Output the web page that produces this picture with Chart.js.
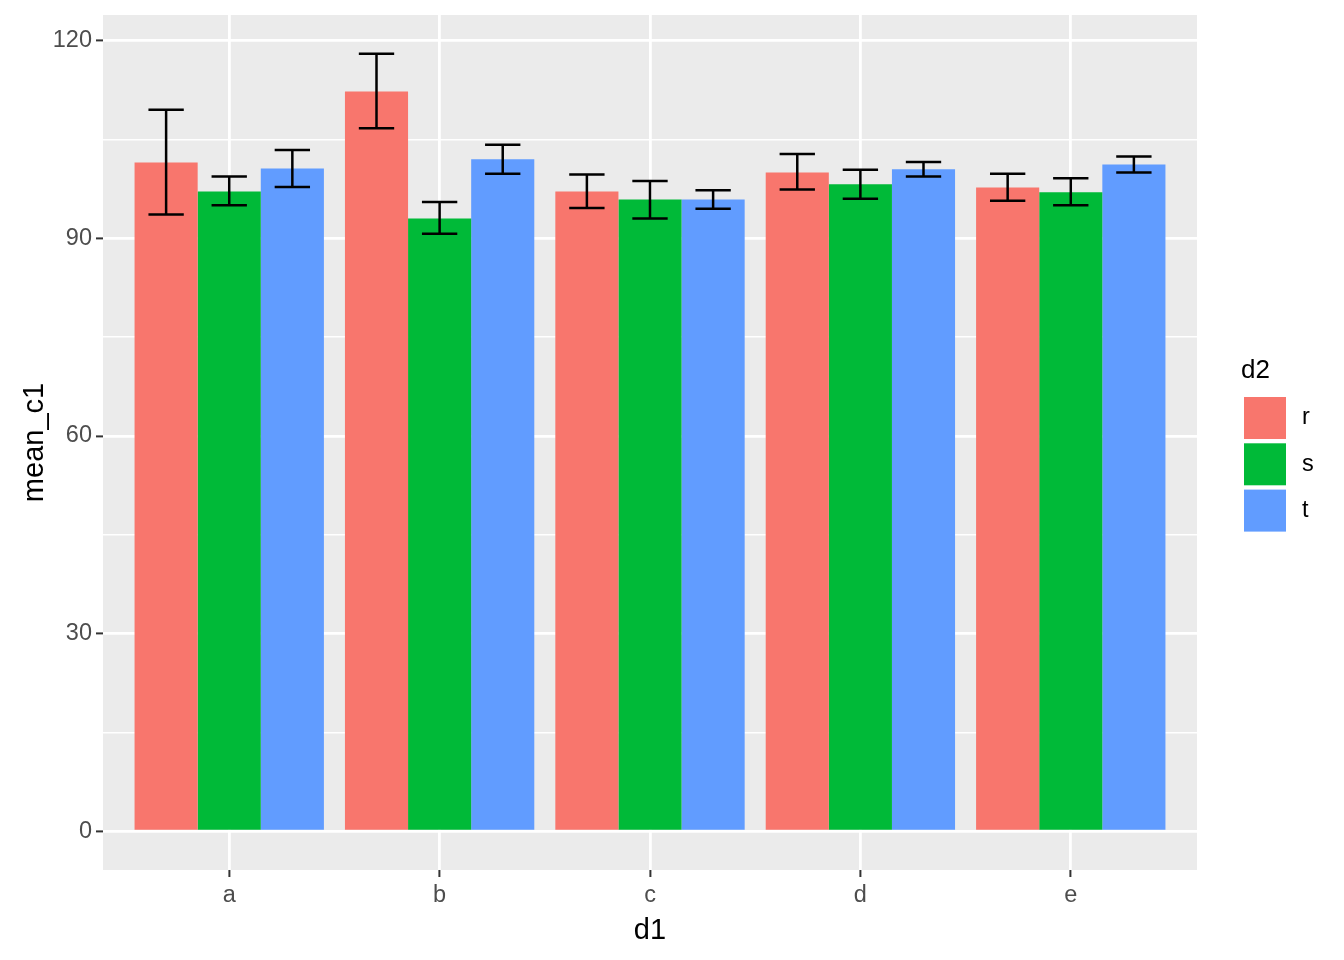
<!DOCTYPE html>
<html>
<head>
<meta charset="utf-8">
<script src="https://cdn.jsdelivr.net/npm/chart.js@4.4.1/dist/chart.umd.min.js"></script>
<style>
  html, body { margin: 0; padding: 0; background: #ffffff; }
  #wrap { width: 1344px; height: 960px; }
</style>
</head>
<body>
<div id="wrap"><canvas id="c" width="1344" height="960"></canvas></div>
<script>
const categories = ['a', 'b', 'c', 'd', 'e'];
const seriesNames = ['r', 's', 't'];
const seriesColors = ['#F8766D', '#00BA38', '#619CFF'];

const meanR = [101.5, 112.3, 97.1, 100.0, 97.7];
const meanS = [97.1, 93.0, 95.9, 98.2, 97.0];
const meanT = [100.6, 102.0, 95.9, 100.5, 101.2];

const lowR = [93.6, 106.7, 94.6, 97.4, 95.7];
const highR = [109.5, 118.0, 99.7, 102.8, 99.8];
const lowS = [95.0, 90.7, 93.0, 96.0, 95.0];
const highS = [99.4, 95.5, 98.7, 100.4, 99.1];
const lowT = [97.8, 99.8, 94.5, 99.4, 100.0];
const highT = [103.4, 104.2, 97.3, 101.6, 102.4];

const yTickLabels = ['0', '30', '60', '90', '120'];

const means = [meanR, meanS, meanT];
const lows = [lowR, lowS, lowT];
const highs = [highR, highS, highT];

const FONT = '"Liberation Sans", Arial, Helvetica, sans-serif';

const datasets = seriesNames.map((name, i) => ({
  label: name,
  data: means[i].map((v, j) => ({ x: j + 1, y: v })),
  backgroundColor: seriesColors[i],
  borderWidth: 0,
  categoryPercentage: 0.9,
  barPercentage: 1.0,
  errLow: lows[i],
  errHigh: highs[i]
}));

const panelBg = {
  id: 'panelBg',
  beforeDraw(chart) {
    const a = chart.chartArea;
    const ctx = chart.ctx;
    ctx.save();
    ctx.fillStyle = '#EBEBEB';
    ctx.fillRect(a.left, a.top, a.right - a.left, a.bottom - a.top);
    ctx.restore();
  }
};

const errorBars = {
  id: 'errorBars',
  afterDatasetsDraw(chart) {
    const ctx = chart.ctx;
    const ys = chart.scales.y;
    ctx.save();
    ctx.strokeStyle = '#000000';
    ctx.lineWidth = 2.5;
    ctx.lineCap = 'butt';
    chart.data.datasets.forEach((ds, i) => {
      const meta = chart.getDatasetMeta(i);
      meta.data.forEach((el, j) => {
        const x = el.x;
        const half = el.width * 0.28;
        const yHi = ys.getPixelForValue(ds.errHigh[j]);
        const yLo = ys.getPixelForValue(ds.errLow[j]);
        ctx.beginPath();
        ctx.moveTo(x - half, yHi); ctx.lineTo(x + half, yHi);
        ctx.moveTo(x, yHi); ctx.lineTo(x, yLo);
        ctx.moveTo(x - half, yLo); ctx.lineTo(x + half, yLo);
        ctx.stroke();
      });
    });
    ctx.restore();
  }
};

const ggLegend = {
  id: 'ggLegend',
  afterDraw(chart) {
    const ctx = chart.ctx;
    ctx.save();
    ctx.fillStyle = '#000000';
    ctx.font = '26px ' + FONT;
    ctx.textAlign = 'left';
    ctx.textBaseline = 'alphabetic';
    ctx.fillText('d2', 1241, 378);
    chart.data.datasets.forEach((ds, i) => {
      const top = 397 + i * 46.3;
      ctx.fillStyle = ds.backgroundColor;
      ctx.fillRect(1244, top, 42, 42);
      ctx.fillStyle = '#000000';
      ctx.font = '23.5px ' + FONT;
      ctx.textBaseline = 'middle';
      ctx.fillText(ds.label, 1302, top + 21);
    });
    ctx.restore();
  }
};

new Chart(document.getElementById('c'), {
  type: 'bar',
  data: { datasets },
  plugins: [panelBg, errorBars, ggLegend],
  options: {
    responsive: false,
    animation: false,
    devicePixelRatio: 1,
    layout: { padding: { left: 0, top: 15, right: 147, bottom: 0 } },
    plugins: {
      legend: { display: false },
      tooltip: { enabled: false },
      title: { display: false }
    },
    scales: {
      x: {
        type: 'linear',
        min: 0.4,
        max: 5.6,
        offset: false,
        border: { display: false },
        grid: {
          offset: false,
          color: '#FFFFFF',
          lineWidth: 2.8,
          tickColor: '#333333',
          tickWidth: 2,
          tickLength: 7,
          drawTicks: true
        },
        ticks: {
          stepSize: 1,
          autoSkip: false,
          includeBounds: false,
          maxRotation: 0,
          padding: 4,
          color: '#4D4D4D',
          font: { family: FONT, size: 23.5 },
          callback: (v) => categories[Math.round(v) - 1] || ''
        },
        title: {
          display: true,
          text: 'd1',
          color: '#000000',
          font: { family: FONT, size: 29 },
          padding: { top: 0, bottom: 12 }
        },
        afterFit: (s) => { s.height = 90; s.paddingLeft = 0; s.paddingRight = 0; }
      },
      y: {
        min: -5.9,
        max: 123.9,
        border: { display: false },
        grid: {
          color: '#FFFFFF',
          lineWidth: (c) => (c.tick && c.tick.value % 30 === 0) ? 2.8 : 1.4,
          tickColor: (c) => (c.tick && c.tick.value % 30 === 0) ? '#333333' : 'rgba(0,0,0,0)',
          tickWidth: 2,
          tickLength: 7
        },
        ticks: {
          stepSize: 15,
          includeBounds: false,
          autoSkip: false,
          padding: 4,
          color: '#4D4D4D',
          font: { family: FONT, size: 23.5 },
          callback: (v) => (v % 30 === 0) ? yTickLabels[v / 30] : ''
        },
        title: {
          display: true,
          text: 'mean_c1',
          color: '#000000',
          font: { family: FONT, size: 29 },
          padding: { top: 18, bottom: 0 }
        },
        afterFit: (s) => { s.width = 103; s.paddingTop = 0; s.paddingBottom = 0; }
      }
    }
  }
});
</script>
</body>
</html>
